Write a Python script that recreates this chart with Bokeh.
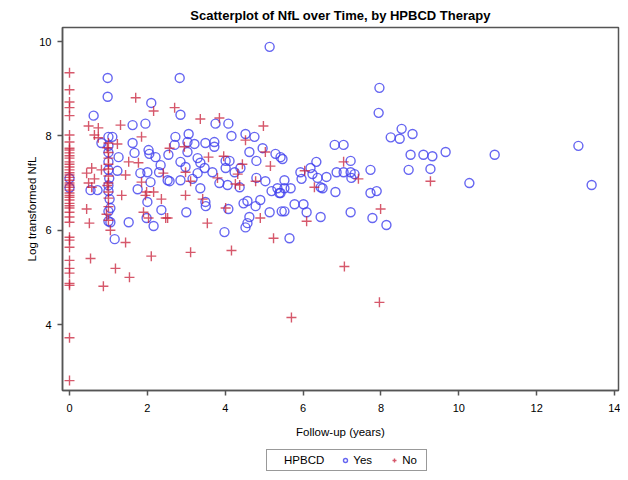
from bokeh.plotting import figure
from bokeh.models import Legend, LegendItem, FixedTicker
from bokeh.layouts import column
from bokeh.embed import file_html
from bokeh.resources import INLINE

# ---- data ----
no_x0_y = [9.34, 8.98, 8.72, 8.60, 8.43, 8.02, 7.87, 7.74, 7.70, 7.64, 7.58, 7.53, 7.45, 7.40,
           7.34, 7.28, 7.22, 7.17, 7.12, 7.06, 7.00, 6.96, 6.91, 6.85, 6.79, 6.74, 6.70, 6.64,
           6.57, 6.52, 6.47, 6.38, 6.28, 6.17, 5.85, 5.79, 5.64, 5.36, 5.19, 5.09, 4.87, 4.83,
           3.72, 2.81]
no_x = [1.7, 2.16, 1.31, 0.49, 0.74, 0.64, 0.74, 1.85, 1.23, 1.0, 1.52, 1.77, 0.57, 0.82, 0.44,
        1.44, 0.64, 1.0, 2.41, 1.85, 0.49, 0.57, 1.0, 1.98,
        0.44, 0.51, 1.34, 0.54, 1.0, 1.0, 0.95, 1.0, 1.05, 1.44, 1.18, 1.54, 0.87, 2.1, 1.9, 2.03,
        2.47, 2.36, 2.16, 1.95,
        2.7, 3.36, 3.85, 4.98, 2.95, 4.52, 5.03, 5.16, 3.57, 3.96, 4.44, 2.98, 4.32, 3.8, 3.11,
        4.78, 4.26, 2.57,
        2.98, 3.42, 4.01, 3.54, 4.9, 5.24, 3.11, 4.16, 2.52, 4.37,
        6.04, 7.04, 7.42, 6.29, 6.09, 7.99, 7.06, 7.96, 5.70, 9.27,
        1.0, 1.0, 1.0, 1.0, 0.97, 1.0, 0.97]
no_y = [8.81, 8.53, 8.23, 8.21, 8.17, 8.02, 7.96, 7.98, 7.83, 7.53, 7.45, 7.43, 7.32, 7.28, 7.21,
        7.17, 7.09, 7.15, 7.21, 7.02, 7.0, 6.91, 7.0, 6.81,
        6.45, 6.15, 6.74, 5.40, 6.81, 6.68, 6.34, 6.21, 6.0, 5.74, 5.19, 5.0, 4.81, 5.45, 6.38, 6.26,
        6.26, 6.66, 6.81, 6.74,
        8.6, 8.36, 8.38, 8.21, 7.77, 7.91, 7.66, 7.36, 7.55, 7.57, 7.4, 7.23, 7.19, 7.11, 7.04,
        7.04, 6.98, 7.74,
        6.74, 6.66, 6.47, 6.15, 6.26, 5.83, 5.53, 5.57, 6.26, 6.96,
        7.26, 7.45, 7.09, 6.91, 6.19, 6.45, 5.23, 4.47, 4.15, 7.04,
        7.85, 7.65, 7.4, 7.3, 6.95, 6.5, 7.75]

yes_x = [0.0, 0.0,
         0.98, 0.98, 0.62, 1.62, 1.95, 2.1, 1.0, 1.1, 0.82, 1.0, 1.62, 1.67, 2.03, 2.05, 2.21, 2.34,
         2.3, 1.26, 1.0, 1.23, 1.82, 2.0, 2.08, 2.54, 2.52, 0.54, 0.72, 1.75, 1.0,
         1.03, 1.05, 1.0, 1.05, 1.52, 1.16, 2.0, 2.36, 2.16, 1.98,
         2.83, 2.85, 3.75, 4.08, 4.16, 4.52, 4.75, 3.06, 2.72, 2.7, 3.03, 3.21, 3.49, 3.72, 3.72,
         3.03, 4.96, 4.62, 5.29, 3.29, 4.8, 2.85, 2.98, 3.36, 4.01, 4.11, 4.01, 3.47, 3.29, 3.67,
         4.24, 4.39, 2.85, 3.16, 3.85, 4.06, 4.37, 4.8, 5.03, 3.36, 2.57, 5.19,
         5.39, 3.0, 3.49, 3.5, 4.08, 4.47, 4.57, 4.9, 4.78, 5.14, 4.62, 4.57, 4.52, 3.98, 5.45,
         5.14, 7.96, 7.94, 8.25, 6.81, 7.04, 5.42, 5.47, 6.34, 7.22, 7.73, 6.19, 5.93, 5.96, 6.24,
         6.37, 6.6, 6.86, 7.04, 7.22, 7.32, 7.24, 5.52, 6.45, 5.34, 5.52, 5.68, 6.83, 7.89, 7.73,
         5.42, 6.5, 5.52, 5.78, 6.01, 6.09, 6.45, 7.22, 7.78, 8.14, 5.65,
         8.53, 8.48, 8.81, 8.76, 9.09, 9.32, 9.66, 10.92, 13.07, 13.41, 8.71, 9.27, 10.27,
         1.0, 1.0, 1.02, 1.0, 1.0]
yes_y = [6.9, 7.1,
         9.23, 8.83, 8.43, 8.23, 8.26, 8.70, 7.98, 7.98, 7.85, 7.79, 7.85, 7.64, 7.70, 7.62, 7.55, 7.38,
         7.23, 7.55, 7.28, 7.26, 7.21, 7.23, 7.02, 7.6, 7.06, 6.85, 6.85, 6.87, 6.83,
         6.66, 6.47, 6.19, 6.17, 6.17, 5.81, 6.6, 6.43, 6.09, 6.26,
         9.23, 8.45, 8.26, 8.26, 8.0, 8.04, 7.98, 8.04, 7.98, 7.81, 7.87, 7.83, 7.85, 7.87, 7.77,
         7.66, 7.74, 7.66, 7.62, 7.53, 7.47, 7.45, 7.34, 7.43, 7.47, 7.47, 7.32, 7.32, 7.21, 7.23,
         7.23, 7.32, 7.06, 7.09, 7.0, 6.96, 6.91, 7.11, 7.04, 6.89, 7.04, 6.83,
         6.79, 6.38, 6.6, 6.51, 6.45, 6.57, 6.62, 6.64, 6.51, 6.38, 6.28, 6.15, 6.06, 5.96, 6.4,
         9.89, 9.02, 8.49, 7.97, 7.81, 7.81, 7.55, 7.51, 7.45, 7.47, 7.28, 7.32, 7.23, 7.09, 7.19,
         7.11, 7.13, 7.23, 7.23, 7.23, 7.19, 7.11, 7.06, 6.91, 6.89, 6.89, 6.89, 6.81, 6.83, 6.79,
         6.79, 6.89, 6.4, 6.55, 6.55, 6.38, 6.28, 6.38, 6.26, 6.11, 5.83,
         8.15, 7.94, 8.04, 7.6, 7.6, 7.57, 7.66, 7.6, 7.79, 6.96, 7.28, 7.3, 7.0,
         7.65, 7.45, 7.1, 6.95, 6.4]

x_ticks = [0, 2, 4, 6, 8, 10, 12, 14]
y_ticks = [4, 6, 8, 10]

title_text = "Scatterplot of NfL over Time, by HPBCD Therapy"
x_label = "Follow-up (years)"
y_label = "Log transformed NfL"
legend_title = "HPBCD"
legend_labels = ["Yes", "No"]

BLUE = "#4040ee"
RED = "#c8203a"
FONT = "Liberation Sans"

yes_style = dict(marker="circle", size=9, fill_color=None, line_color=BLUE,
                 line_alpha=0.8, line_width=1.4)
no_style = dict(marker="cross", size=10, line_color=RED, line_alpha=0.75, line_width=1.4)

p = figure(width=620, height=440, output_backend="svg", toolbar_location=None,
           x_range=(-0.18, 14.10), y_range=(2.60, 10.30),
           min_border_left=62, min_border_right=2, min_border_top=25, min_border_bottom=50,
           title=title_text)

p.title.align = "center"
p.title.text_font = FONT
p.title.text_font_size = "13px"
p.title.text_font_style = "bold"
p.title.text_color = "#000000"

p.xgrid.visible = False
p.ygrid.visible = False
p.outline_line_color = "#555555"
p.outline_line_width = 1.5

for ax in (p.xaxis[0], p.yaxis[0]):
    ax.axis_line_color = "#555555"
    ax.axis_line_width = 1.5
    ax.major_tick_line_color = "#555555"
    ax.major_tick_line_width = 1.5
    ax.major_tick_out = 5
    ax.major_tick_in = 0
    ax.minor_tick_out = 0
    ax.minor_tick_in = 0
    ax.major_label_text_font = FONT
    ax.major_label_text_font_size = "11px"
    ax.major_label_text_color = "#000000"
    ax.axis_label_text_font = FONT
    ax.axis_label_text_font_size = "11.5px"
    ax.axis_label_text_font_style = "normal"
    ax.axis_label_text_color = "#000000"

p.xaxis[0].ticker = FixedTicker(ticks=x_ticks)
p.yaxis[0].ticker = FixedTicker(ticks=y_ticks)
p.xaxis[0].axis_label = x_label
p.yaxis[0].axis_label = y_label
p.xaxis[0].major_label_standoff = 8
p.xaxis[0].axis_label_standoff = 11
p.yaxis[0].major_label_standoff = 6
p.yaxis[0].axis_label_standoff = -2

no_all_x = [0.0] * len(no_x0_y) + no_x
no_all_y = no_x0_y + no_y

p.scatter(yes_x, yes_y, **yes_style)
p.scatter(no_all_x, no_all_y, **no_style)

# ---- legend strip below the plot ----
leg = figure(width=620, height=32, output_backend="svg", toolbar_location=None,
             x_axis_location=None, y_axis_location=None, min_border=0,
             x_range=(0, 1), y_range=(0, 1), frame_align=False)
leg.outline_line_color = None
leg.xgrid.visible = False
leg.ygrid.visible = False
# off-range proxies: only their legend swatches are seen
r_head = leg.scatter([-10], [-10], marker="circle", size=1, line_alpha=0, fill_alpha=0)
r_yes = leg.scatter([-10], [-10], **yes_style)
r_no = leg.scatter([-10], [-10], **no_style)

items = [LegendItem(label=legend_title, renderers=[r_head]),
         LegendItem(label=legend_labels[0], renderers=[r_yes]),
         LegendItem(label=legend_labels[1], renderers=[r_no])]
legend = Legend(items=items, orientation="horizontal", location=(266, 1))
legend.label_text_font = FONT
legend.label_text_font_size = "11.5px"
legend.label_text_color = "#000000"
legend.label_standoff = 3
legend.glyph_width = 10
legend.glyph_height = 12
legend.spacing = 16
legend.padding = 4
legend.margin = 0
legend.border_line_color = "#333333"
legend.border_line_width = 1
legend.label_height = 12
leg.add_layout(legend, "center")

layout = column(p, leg, spacing=0)

open("out.html", "w").write(file_html(layout, INLINE))
